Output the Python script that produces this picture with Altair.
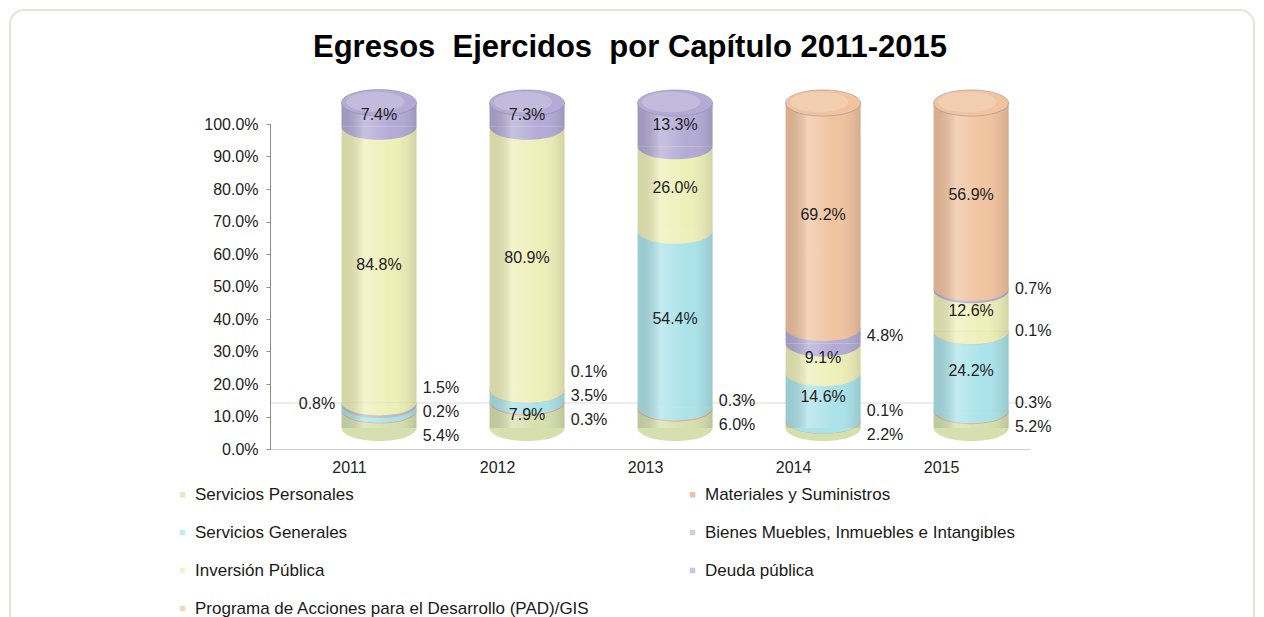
import altair as alt
import pandas as pd

# ---------------- data ----------------
years = [2011, 2012, 2013, 2014, 2015]
series = [
    "Servicios Personales",
    "Materiales y Suministros",
    "Servicios Generales",
    "Bienes Muebles, Inmuebles e Intangibles",
    "Inversión Pública",
    "Deuda pública",
    "Programa de Acciones para el Desarrollo (PAD)/GIS",
]
servicios_personales = [5.4, 7.9, 6.0, 2.2, 5.2]
materiales_suministros = [0.2, 0.3, 0.3, 0.1, 0.3]
servicios_generales = [1.5, 3.5, 54.4, 14.6, 24.2]
bienes_muebles = [0.8, 0.1, 0.0, 0.0, 0.1]
inversion_publica = [84.8, 80.9, 26.0, 9.1, 12.6]
deuda_publica = [7.4, 7.3, 13.3, 4.8, 0.7]
pad_gis = [0.0, 0.0, 0.0, 69.2, 56.9]
colors = ["#D6E0AE", "#E8A284", "#ABE3EA", "#BDBDBD", "#EEF0B9", "#B3ABD6", "#F1C39F"]
title_text = "Egresos\u00a0 Ejercidos\u00a0 por Capítulo 2011-2015"

# ---------------- layout constants ----------------
W, H = 760, 325
BAR_W, BAR_DX, BAR_DY = 75, 30, -21
LAB_DX = 62
FONT = "Liberation Sans"

all_values = [servicios_personales, materiales_suministros, servicios_generales,
              bienes_muebles, inversion_publica, deuda_publica, pad_gis]
rows = []
for yi, yr in enumerate(years):
    cum = 0.0
    for si, name in enumerate(series):
        v = all_values[si][yi] / 100.0
        rows.append(dict(year=yr, serie=name, idx=si, pct=v, start=cum, end=cum + v,
                         mid=cum + v / 2, label=f"{all_values[si][yi]:.1f}%"))
        cum += v
df = pd.DataFrame(rows)
seg = df[df.pct > 0].sort_values(["year", "idx"]).reset_index(drop=True)

# label placement: big segments inside, small ones outside, spread apart
GAP = 24.0 / H
inside = seg[seg.pct >= 0.07].copy()
outside_rows = []
for yr, g in seg[seg.pct < 0.07].groupby("year"):
    g = g.sort_values("idx")
    clusters, cur = [], []
    for _, r in g.iterrows():
        if cur and r["mid"] - cur[-1]["mid"] > GAP:
            clusters.append(cur)
            cur = []
        cur.append(r)
    if cur:
        clusters.append(cur)
    for cl in clusters:
        if len(cl) > 3:
            r = cl.pop()
            outside_rows.append(dict(year=yr, label=r["label"], lab_y=r["mid"], side="left"))
        n = len(cl)
        center = sum(r["mid"] for r in cl) / n
        for k, r in enumerate(cl):
            outside_rows.append(dict(year=yr, label=r["label"],
                                     lab_y=center - ((n - 1) / 2 - k) * GAP, side="right"))
outside = pd.DataFrame(outside_rows)
tops = seg.groupby("year").tail(1).copy()

# ---------------- scales & axes ----------------
X_SCALE = alt.Scale(domain=[2010.5, 2010.5 + W / 150.0], nice=False, zero=False)
Y_SCALE = alt.Scale(domain=[0, 1], nice=False)
COLOR_SCALE = alt.Scale(domain=series, range=colors)
X_AXIS = alt.Axis(values=years, format="d", ticks=False, grid=False, zindex=1,
                  domainColor="#cfcfcf", labelFont=FONT, labelFontSize=16,
                  labelColor="#222222", labelPadding=10)
Y_AXIS = alt.Axis(values=[round(i / 10, 1) for i in range(11)], format=".1%", grid=False,
                  zindex=1, tickSize=4, tickColor="#8c8c8c", domainColor="#8c8c8c",
                  labelFont=FONT, labelFontSize=16, labelColor="#222222",
                  labelPadding=8, labelOverlap=False, tickCount=11)


def X():
    return alt.X("year:Q", scale=X_SCALE, title=None, axis=X_AXIS)


def Y(field):
    return alt.Y(field, scale=Y_SCALE, title=None, axis=Y_AXIS)


FULL_ELLIPSE = "M-1,0A1,0.35,0,1,0,1,0A1,0.35,0,1,0,-1,0Z"
LOWER_HALF = "M-1,0A1,0.35,0,0,0,1,0Z"
OFFS = dict(xOffset=BAR_DX, yOffset=BAR_DY)
BAR_OFFS = dict(xOffset=BAR_DX, yOffset=BAR_DY, y2Offset=BAR_DY)

panel = alt.Chart(pd.DataFrame({"a": [0]})).mark_rect(
    fill="white", stroke="#e4e4d6", strokeWidth=2, cornerRadius=14
).encode(x=alt.value(-260), x2=alt.value(984), y=alt.value(-114), y2=alt.value(530))

backline = alt.Chart(pd.DataFrame({"y": [0.0]})).mark_rule(
    color="#dadada", strokeWidth=1, yOffset=-46
).encode(y=Y("y:Q"), x=alt.value(0), x2=alt.value(W))

bars = alt.Chart(seg).mark_bar(size=BAR_W, **BAR_OFFS).encode(
    x=X(),
    y=Y("start:Q"),
    y2="end:Q",
    color=alt.Color("serie:N", scale=COLOR_SCALE, sort=series,
                    legend=alt.Legend(orient="none", direction="horizontal",
                                      legendX=-96, legendY=362, columns=2,
                                      columnPadding=94, rowPadding=20, title=None,
                                      symbolType="square", symbolSize=30,
                                      symbolStrokeWidth=0, symbolOpacity=0.7,
                                      labelFont=FONT, labelFontSize=17,
                                      labelColor="#1a1a1a", labelLimit=700,
                                      labelOffset=4)),
)

edges = alt.Chart(seg).mark_point(
    shape=LOWER_HALF, size=BAR_W * BAR_W, filled=True, opacity=1, **OFFS
).encode(x=X(), y=Y("start:Q"),
         color=alt.Color("serie:N", scale=COLOR_SCALE, legend=None))

shade = alt.Chart(tops).mark_bar(
    size=BAR_W, **BAR_OFFS,
    color=alt.Gradient(gradient="linear", x1=0, x2=1, y1=0, y2=0, stops=[
        alt.GradientStop(color="rgba(0,0,0,0.10)", offset=0),
        alt.GradientStop(color="rgba(255,255,255,0.28)", offset=0.3),
        alt.GradientStop(color="rgba(255,255,255,0.0)", offset=0.65),
        alt.GradientStop(color="rgba(0,0,0,0.12)", offset=1),
    ])
).encode(x=X(), y=Y("end:Q"), y2=alt.datum(0))

caps = alt.Chart(tops).mark_point(
    shape=FULL_ELLIPSE, size=BAR_W * BAR_W, filled=True, opacity=1,
    stroke="#8a8a9a", strokeWidth=1, strokeOpacity=0.5, **OFFS
).encode(x=X(), y=Y("end:Q"),
         color=alt.Color("serie:N", scale=COLOR_SCALE, legend=None))

cap_light = alt.Chart(tops).mark_point(
    shape=FULL_ELLIPSE, size=BAR_W * BAR_W * 0.6, filled=True, opacity=0.2,
    color="white", xOffset=BAR_DX - 4, yOffset=BAR_DY - 1
).encode(x=X(), y=Y("end:Q"))

txt = dict(font=FONT, fontSize=16, color="#222222", baseline="middle")
lab_in = alt.Chart(inside).mark_text(align="center", **OFFS, **txt).encode(
    x=X(), y=Y("mid:Q"), text="label:N")
lab_right = alt.Chart(outside[outside.side == "right"]).mark_text(
    align="center", dx=LAB_DX, **OFFS, **txt).encode(
    x=X(), y=Y("lab_y:Q"), text="label:N")
lab_left = alt.Chart(outside[outside.side == "left"]).mark_text(
    align="center", dx=-LAB_DX, **OFFS, **txt).encode(
    x=X(), y=Y("lab_y:Q"), text="label:N")

title = alt.Chart(pd.DataFrame({"t": [title_text]})).mark_text(
    font=FONT, fontSize=31, fontWeight="bold", color="#000000", align="center",
    baseline="alphabetic"
).encode(x=alt.value(360), y=alt.value(-67), text="t:N")

chart = alt.layer(
    panel, backline, bars, edges, shade, caps, cap_light, lab_in, lab_right, lab_left, title
).properties(
    width=W, height=H,
    autosize=alt.AutoSizeParams(type="none"),
    padding={"left": 262, "top": 116, "right": 226, "bottom": 168},
).configure_view(stroke=None).configure(background="white")

chart.save("out.html", embed_options={"renderer": "svg", "actions": False})
